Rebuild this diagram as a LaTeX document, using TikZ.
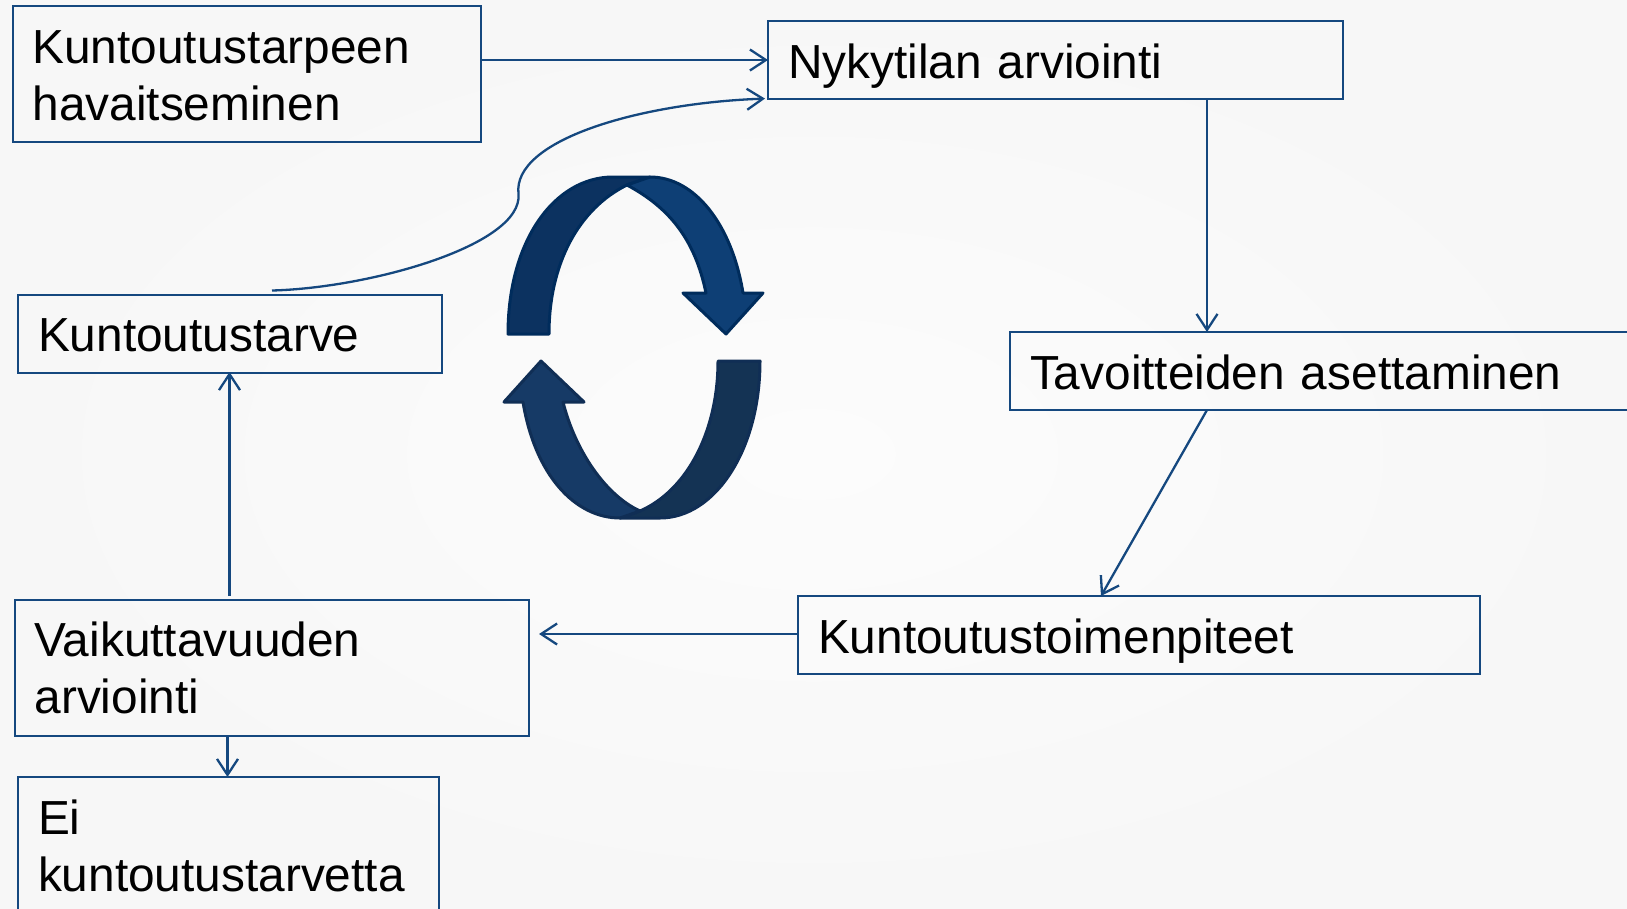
\documentclass[tikz,border=0pt]{standalone}
\usepackage{fontspec}
\setmainfont{Liberation Sans}
\usetikzlibrary{arrows.meta}
\definecolor{linec}{HTML}{15487F}
\definecolor{edgeA}{HTML}{002C5C}
\definecolor{edgeB}{HTML}{102E55}
\definecolor{bandA}{HTML}{0C3260}
\definecolor{bandB}{HTML}{0E3F75}
\definecolor{bandC}{HTML}{143354}
\definecolor{bandD}{HTML}{163A66}
\definecolor{bgin}{HTML}{FCFCFC}
\definecolor{bgout}{HTML}{F7F7F7}
\tikzset{
  flowbox/.style={draw=linec,line width=2pt,anchor=north west,outer sep=0pt,inner xsep=20pt,inner ysep=0pt,
    align=left,text=black,font=\fontsize{47.8}{57}\selectfont},
  oneline/.style={text height=37pt,text depth=0pt},
  conn/.style={draw=linec,line width=2.3pt,-{Straight Barb[length=16pt,width=21pt,line width=2.3pt]}},
  ribbonA/.style={draw=edgeA,line width=3pt,line join=round},
  ribbonB/.style={draw=edgeB,line width=3pt,line join=round}
}
\begin{document}
\begin{tikzpicture}[x=1pt,y=-1pt]
\clip (0,0) rectangle (1627,908);
\useasboundingbox (0,0) rectangle (1627,908);
\shade[inner color=bgin,outer color=bgout] (0,0) rectangle (1627,908);
% boxes
\node[flowbox,minimum width=468.5pt,minimum height=136pt,text width=428.5pt] (tarve1) at (12.5,6) {\rule{0pt}{36pt}Kuntoutustarpeen\\havaitseminen};
\node[flowbox,oneline,minimum width=575pt,minimum height=78pt,text width=535pt] (nyky) at (768,21) {Nykytilan arviointi};
\node[flowbox,oneline,minimum width=640pt,minimum height=78pt,text width=600pt] (tavo) at (1010,332) {Tavoitteiden asettaminen};
\node[flowbox,oneline,minimum width=682pt,minimum height=78pt,text width=642pt] (toim) at (798,596) {Kuntoutustoimenpiteet};
\node[flowbox,minimum width=514.5pt,minimum height=136pt,text width=474.5pt] (vaik) at (14.6,599.5) {Vaikuttavuuden\\arviointi};
\node[flowbox,text height=35pt,text depth=0pt,minimum width=424pt,minimum height=78pt,text width=384pt] (tarve2) at (18,295) {Kuntoutustarve};
\node[flowbox,minimum width=421pt,minimum height=138pt,text width=381pt] (eitarve) at (18,777) {Ei\\kuntoutustarvetta};
% free-end coordinates
\coordinate (curveS) at (272,290.5);
\coordinate (curveM) at (518.5,194);
\coordinate (curveE) at (765,98.6);
\coordinate (upS) at (229.5,596);
\coordinate (intoVaik) at (539,634);
\coordinate (outNyky) at (1207,99);
\coordinate (inTavo) at (1207,332);
\coordinate (outTavo) at (1207,410);
\coordinate (inToim) at (1101,596);
\coordinate (inG) at (229.5,372);
\coordinate (outV) at (227.5,735.5);
\coordinate (inF) at (227.5,777);
\coordinate (outA) at (481,60);
\coordinate (inB) at (768,60);
\coordinate (outD) at (798,634);
% connectors
\draw[conn] (outA) -- (inB);
\draw[conn] (outNyky) -- (inTavo);
\draw[conn] (outTavo) -- (inToim);
\draw[conn] (outD) -- (intoVaik);
\draw[conn] (upS) -- (inG);
\draw[conn] (outV) -- (inF);
\draw[conn] (curveS) .. controls (370,288) and (523,245) .. (curveM)
  .. controls (512,140) and (640,103) .. (curveE);
% circular arrows
\filldraw[ribbonA,fill=bandA] (508,334) .. controls (508,240) and (555,177) .. (613,177) -- (650,177) -- (627,185)
  .. controls (580,208) and (549,262) .. (549,334) -- cycle;
\filldraw[ribbonA,fill=bandB] (627,185) -- (650,177) .. controls (695,177) and (732,225) .. (743,293)
  -- (763,293) -- (726,334) -- (683,293) -- (706,293) .. controls (695,240) and (670,208) .. (627,185) -- cycle;
\filldraw[ribbonB,fill=bandC] (718,361) -- (760,361) .. controls (760,450) and (715,518) .. (660,518)
  -- (620,518) -- (640,511) .. controls (688,490) and (718,430) .. (718,361) -- cycle;
\filldraw[ribbonB,fill=bandD] (541,361) -- (584,402) -- (563,402) .. controls (575,450) and (605,495) .. (640,511)
  -- (620,518) .. controls (575,518) and (535,475) .. (523,402) -- (504,402) -- cycle;
\end{tikzpicture}
\end{document}
